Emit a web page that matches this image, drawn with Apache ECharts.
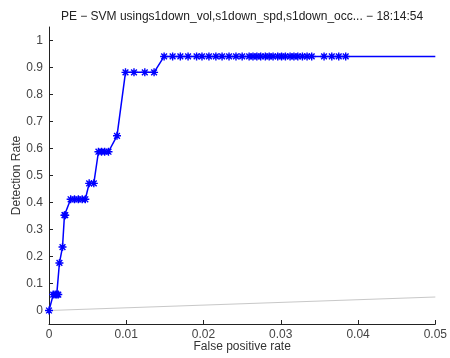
<!DOCTYPE html>
<html>
<head>
<meta charset="utf-8">
<script src="https://cdn.jsdelivr.net/npm/echarts@6/dist/echarts.min.js"></script>
<style>
  html, body { margin: 0; padding: 0; background: #fff; }
  #chart { width: 450px; height: 358px; }
</style>
</head>
<body>
<div id="chart"></div>
<script>
// ROC operating points (false positive rate vs detection rate)
const fprValues = [
  0, 0.00055, 0.0008, 0.001, 0.0012, 0.00135, 0.00175, 0.002, 0.0021,
  0.0028, 0.0033, 0.0038, 0.0043, 0.0047, 0.0052, 0.0058,
  0.0064, 0.0068, 0.0072, 0.0077, 0.0088,
  0.0099, 0.011, 0.0124, 0.0136,
  0.0149, 0.016, 0.017, 0.018, 0.0191, 0.0198, 0.0207, 0.0216, 0.0224,
  0.0233, 0.0242, 0.025, 0.0259, 0.0264, 0.0269, 0.0274, 0.028, 0.0285,
  0.029, 0.0296, 0.0301, 0.0306, 0.0312, 0.0317, 0.0322, 0.0328, 0.0334,
  0.034, 0.0356, 0.0366, 0.0375, 0.0384, 0.05
];
const detectionValues = [
  0, 0.059, 0.059, 0.059, 0.059, 0.176, 0.235, 0.353, 0.353,
  0.412, 0.412, 0.412, 0.412, 0.412, 0.471, 0.471,
  0.588, 0.588, 0.588, 0.588, 0.647,
  0.882, 0.882, 0.882, 0.882,
  0.941, 0.941, 0.941, 0.941, 0.941, 0.941, 0.941, 0.941, 0.941,
  0.941, 0.941, 0.941, 0.941, 0.941, 0.941, 0.941, 0.941, 0.941,
  0.941, 0.941, 0.941, 0.941, 0.941, 0.941, 0.941, 0.941, 0.941,
  0.941, 0.941, 0.941, 0.941, 0.941, 0.941
];
// Chance diagonal
const chanceX = [0, 0.05];
const chanceY = [0, 0.05];

const xTicks = [0, 0.01, 0.02, 0.03, 0.04, 0.05];
const yTicks = [0, 0.1, 0.2, 0.3, 0.4, 0.5, 0.6, 0.7, 0.8, 0.9, 1];

const titleText = 'PE \u2212 SVM usings1down_vol,s1down_spd,s1down_occ... \u2212 18:14:54';

// asterisk marker (plus + cross)
const starPath = 'path://M0,-5L0,5M-5,0L5,0M-3.6,-3.6L3.6,3.6M-3.6,3.6L3.6,-3.6';

const rocData = fprValues.map((x, i) => {
  const item = { value: [x, detectionValues[i]] };
  if (i === fprValues.length - 1) item.symbol = 'none';
  return item;
});

const fontFam = 'Liberation Sans, Arial, sans-serif';
const fmt = v => (v === 0 ? '0' : String(+v.toFixed(3)));

const chart = echarts.init(document.getElementById('chart'), null, { renderer: 'canvas' });
chart.setOption({
  backgroundColor: '#ffffff',
  animation: false,
  title: {
    text: titleText,
    left: 237,
    textAlign: 'center',
    top: 6,
    textStyle: { fontFamily: fontFam, fontSize: 12, fontWeight: 'normal', color: '#222' }
  },
  grid: { left: 49, right: 13, top: 27, bottom: 34, containLabel: false },
  xAxis: {
    type: 'value',
    min: 0, max: 0.05, interval: 0.01,
    name: 'False positive rate',
    nameLocation: 'middle',
    nameGap: 17,
    nameMoveOverlap: false,
    nameTextStyle: { fontFamily: fontFam, fontSize: 12, color: '#333' },
    axisLine: { show: true, onZero: false, lineStyle: { color: '#222', width: 1 } },
    axisTick: { show: true, inside: true, length: 4, lineStyle: { color: '#222' }, customValues: xTicks },
    axisLabel: { fontFamily: fontFam, fontSize: 12, color: '#444', margin: 5, formatter: fmt, customValues: xTicks },
    splitLine: { show: false }
  },
  yAxis: {
    type: 'value',
    min: -0.05, max: 1.05,
    name: 'Detection Rate',
    nameLocation: 'middle',
    nameGap: 26,
    nameRotate: 90,
    nameMoveOverlap: false,
    nameTextStyle: { fontFamily: fontFam, fontSize: 12, color: '#333' },
    axisLine: { show: true, onZero: false, lineStyle: { color: '#222', width: 1 } },
    axisTick: { show: true, inside: true, length: 4, lineStyle: { color: '#222' }, customValues: yTicks },
    axisLabel: { fontFamily: fontFam, fontSize: 12, color: '#444', margin: 6, formatter: fmt, customValues: yTicks },
    splitLine: { show: false }
  },
  series: [
    {
      type: 'line',
      data: chanceX.map((x, i) => [x, chanceY[i]]),
      symbol: 'none',
      lineStyle: { color: '#c8c8c8', width: 1 },
      z: 1
    },
    {
      type: 'line',
      data: rocData,
      symbol: starPath,
      symbolSize: 8,
      showAllSymbol: true,
      lineStyle: { color: '#0000ff', width: 1.5 },
      itemStyle: { color: '#0000ff', borderColor: '#0000ff', borderWidth: 1.4 },
      clip: false,
      z: 2
    }
  ]
});
</script>
</body>
</html>
